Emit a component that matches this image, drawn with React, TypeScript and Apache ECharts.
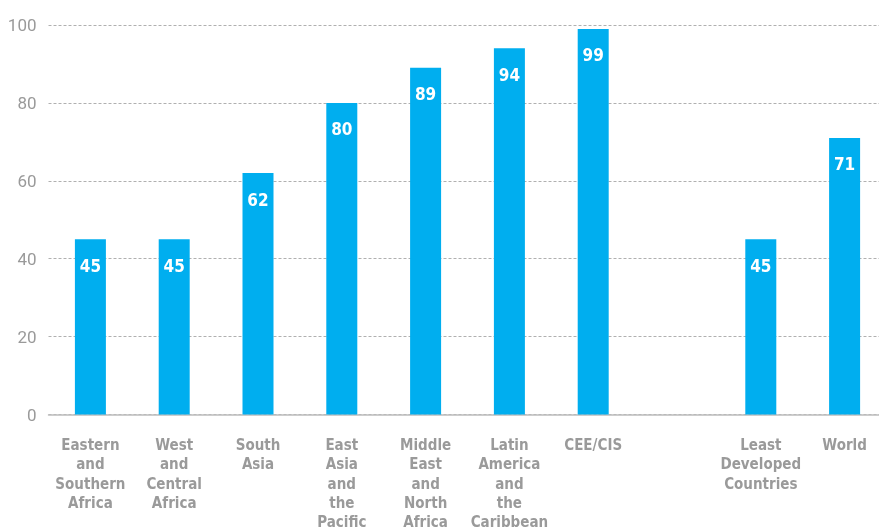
import React, { useEffect, useRef } from "react";
import * as echarts from "echarts";

const categories = [
  "Eastern\nand\nSouthern\nAfrica",
  "West\nand\nCentral\nAfrica",
  "South\nAsia",
  "East\nAsia\nand\nthe\nPacific",
  "Middle\nEast\nand\nNorth\nAfrica",
  "Latin\nAmerica\nand\nthe\nCaribbean",
  "CEE/CIS",
  "",
  "Least\nDeveloped\nCountries",
  "World",
];
const values: (number | string)[] = [45, 45, 62, 80, 89, 94, 99, "-", 45, 71];
const yTicks = [0, 20, 40, 60, 80, 100];

const FONT = "'Liberation Sans Narrow', 'DejaVu Sans Condensed', 'Arial Narrow', Roboto, sans-serif";

export default function App() {
  const ref = useRef<HTMLDivElement>(null);
  useEffect(() => {
    if (!ref.current) return;
    const chart = echarts.init(ref.current, undefined, { renderer: "svg" });
    chart.setOption({
      animation: false,
      grid: { left: 48.5, right: 3.5, top: 25, bottom: 115 },
      xAxis: {
        type: "category",
        data: categories,
        axisTick: { show: false },
        axisLine: { lineStyle: { color: "#bdbdbd", width: 1.5 } },
        axisLabel: {
          interval: 0,
          color: "#9a9a9a",
          fontFamily: FONT,
          fontWeight: "bold",
          fontSize: 15,
          lineHeight: 19.3,
          margin: 21,
          verticalAlign: "top",
        },
      },
      yAxis: {
        type: "value",
        min: yTicks[0],
        max: yTicks[yTicks.length - 1],
        interval: 20,
        axisLine: { show: false },
        axisTick: { show: false },
        axisLabel: {
          color: "#9a9a9a",
          fontFamily: "Roboto, sans-serif",
          fontSize: 17,
          margin: 12,
          verticalAlign: "middle",
          padding: [0, 0, 6, 0],
        },
        splitLine: {
          lineStyle: { color: "#b0b0b0", type: [3, 2], width: 1 },
        },
      },
      series: [
        {
          type: "bar",
          data: values,
          barWidth: 31,
          itemStyle: { color: "#00aeef" },
          label: {
            show: true,
            position: "insideTop",
            distance: 18,
            color: "#ffffff",
            fontFamily: FONT,
            fontWeight: "bold",
            fontSize: 17,
          },
        },
      ],
    });
    return () => chart.dispose();
  }, []);
  return (
    <div
      ref={ref}
      style={{ position: "fixed", left: 0, top: 0, width: 890, height: 532 }}
    />
  );
}
